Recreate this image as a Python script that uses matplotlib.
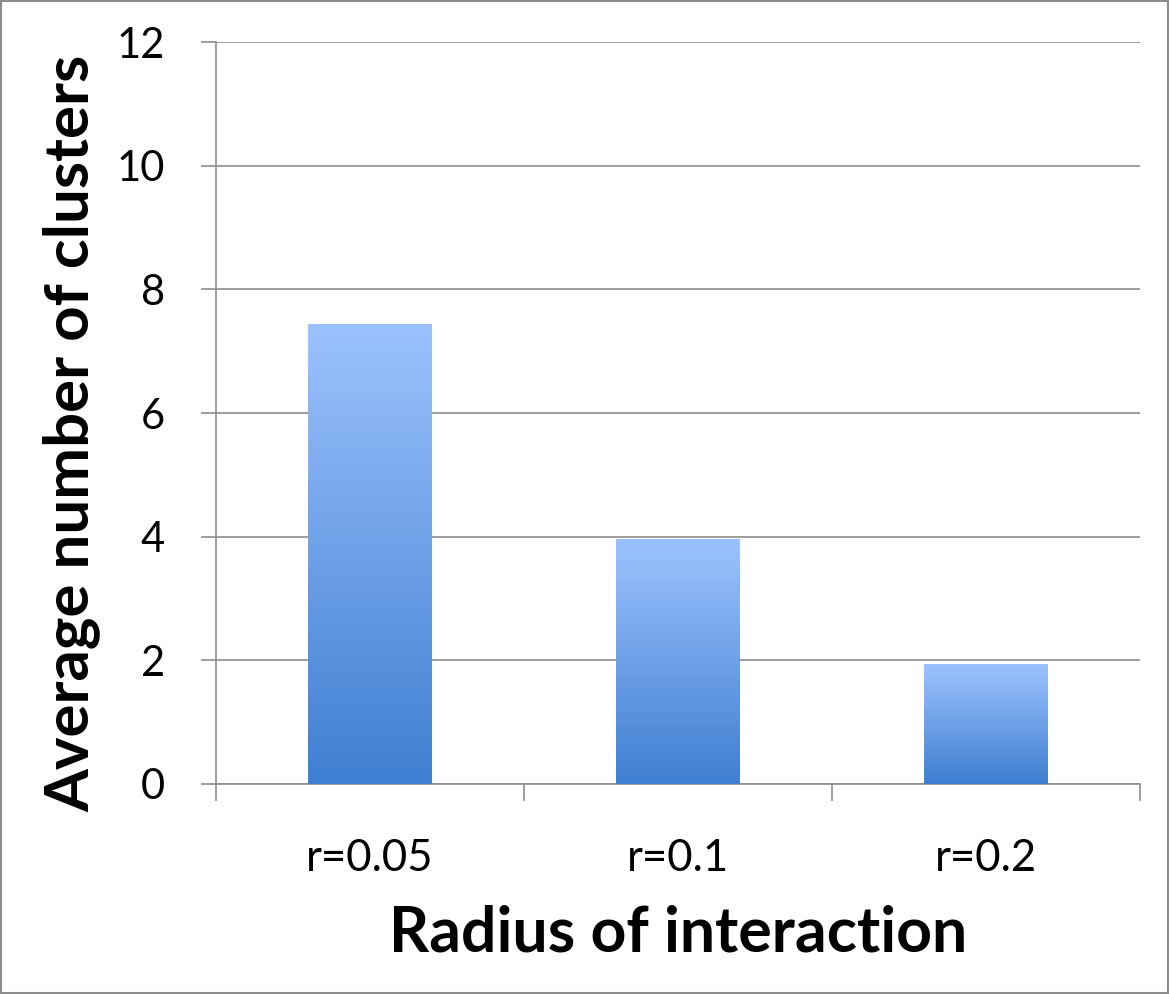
import matplotlib
matplotlib.use("Agg")
import matplotlib.pyplot as plt
import numpy as np
from matplotlib.patches import Rectangle
from matplotlib.colors import LinearSegmentedColormap

# Data
categories = ["r=0.05", "r=0.1", "r=0.2"]
avg_clusters = [7.44, 3.96, 1.94]
y_ticks = [0, 2, 4, 6, 8, 10, 12]

plt.rcParams['font.family'] = ['Lato', 'DejaVu Sans']

fig = plt.figure(figsize=(11.69, 9.94), dpi=100)
ax = fig.add_axes([0.1848, 0.2113, 0.7904, 0.7464])

# gradient used for bar fill (bottom -> top)
grad_cmap = LinearSegmentedColormap.from_list("bar_grad", ["#3f7fd1", "#9cc2fd"])

x = np.arange(len(categories))
bars = ax.bar(x, avg_clusters, width=0.4, color="none", edgecolor="none", zorder=3)
gradient = np.linspace(0, 1, 256).reshape(-1, 1)
for b in bars:
    x0, y0 = b.get_x(), b.get_y()
    w, h = b.get_width(), b.get_height()
    img = ax.imshow(gradient, cmap=grad_cmap, origin="lower", aspect="auto",
                    extent=[x0, x0 + w, y0, y0 + h], zorder=3)
    img.set_clip_path(b)

ax.set_xlim(-0.5, len(categories) - 0.5)
ax.set_ylim(0, 12)
ax.set_yticks(y_ticks)
ax.set_xticks(x)
ax.set_xticklabels(categories)
ax.set_xticks(np.arange(len(categories) + 1) - 0.5, minor=True)

ax.yaxis.grid(True, color="#8c8c8c", linewidth=1.2, zorder=0)
ax.set_axisbelow(True)
for side in ["top", "right"]:
    ax.spines[side].set_visible(False)
for side in ["left", "bottom"]:
    ax.spines[side].set_color("#8c8c8c")
    ax.spines[side].set_linewidth(1.2)

ax.tick_params(axis="y", which="major", length=11, width=1.2, color="#8c8c8c",
               labelsize=30, pad=26)
ax.tick_params(axis="x", which="major", length=0, labelsize=31.5, pad=39)
ax.tick_params(axis="x", which="minor", length=12, width=1.2, color="#8c8c8c")

ax.set_ylabel("Average number of clusters", fontsize=44.5, fontweight="bold")
ax.yaxis.set_label_coords(-0.1255, 0.473)
ax.set_xlabel("Radius of interaction", fontsize=45, fontweight="bold", labelpad=18)

# outer frame of the figure
fig.patches.append(Rectangle((0.001, 0.001), 0.998, 0.998, transform=fig.transFigure,
                             fill=False, edgecolor="#8c8c8c", linewidth=1.5))

fig.savefig("out.png", dpi=100)
